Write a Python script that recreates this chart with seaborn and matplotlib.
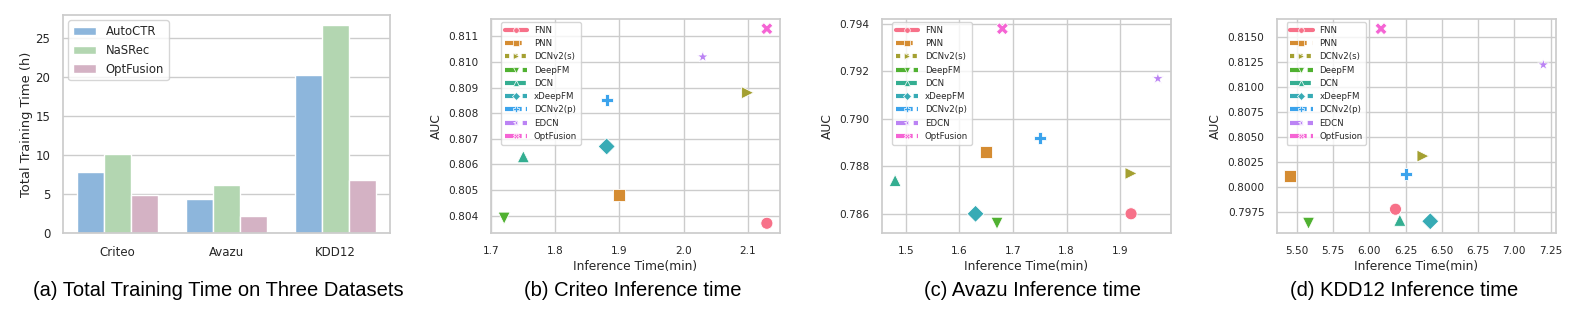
import matplotlib
matplotlib.use("Agg")
import matplotlib.pyplot as plt
from matplotlib.lines import Line2D
import numpy as np
import pandas as pd
import seaborn as sns
from seaborn._base import unique_dashes

# ---- data -------------------------------------------------------------
datasets = ["Criteo", "Avazu", "KDD12"]
searchers = ["AutoCTR", "NaSRec", "OptFusion"]
train_hours = {
    "AutoCTR": [7.8, 4.3, 20.3],
    "NaSRec": [10.1, 6.1, 26.6],
    "OptFusion": [4.9, 2.2, 6.8],
}

models = ["FNN", "PNN", "DCNv2(s)", "DeepFM", "DCN", "xDeepFM", "DCNv2(p)", "EDCN", "OptFusion"]
criteo_time = [2.13, 1.90, 2.10, 1.72, 1.75, 1.88, 1.88, 2.03, 2.13]
criteo_auc = [0.8037, 0.8048, 0.8088, 0.8039, 0.8063, 0.8067, 0.8085, 0.8102, 0.8113]
avazu_time = [1.92, 1.65, 1.92, 1.67, 1.48, 1.63, 1.75, 1.97, 1.68]
avazu_auc = [0.7860, 0.7886, 0.7877, 0.7856, 0.7874, 0.7860, 0.7892, 0.7917, 0.7938]
kdd_time = [6.18, 5.45, 6.37, 5.58, 6.21, 6.42, 6.25, 7.20, 6.08]
kdd_auc = [0.7978, 0.8011, 0.8031, 0.7964, 0.7967, 0.7966, 0.8013, 0.8122, 0.8158]

captions = [
    "(a) Total Training Time on Three Datasets",
    "(b) Criteo Inference time",
    "(c) Avazu Inference time",
    "(d) KDD12 Inference time",
]

# ---- style ------------------------------------------------------------
sns.set_theme(style="whitegrid")
plt.rcParams["font.family"] = ["DejaVu Sans"]

bar_colors = ["#8db6dc", "#b3d6b1", "#d4b2c4"]
palette = dict(zip(models, sns.color_palette("husl", len(models))))
marker_list = ["o", "s", ">", "v", "^", "D", "P", "*", "X"]
markers = dict(zip(models, marker_list))
dashes = dict(zip(models, unique_dashes(len(models))))

W, H = 1577, 315
fig = plt.figure(figsize=(W / 100, H / 100), dpi=100)


def px_axes(left, right, top, bottom):
    return fig.add_axes([left / W, (H - bottom) / H, (right - left) / W, (bottom - top) / H])


# ---- (a) training time bars ------------------------------------------
bars = pd.DataFrame(
    [(d, s, train_hours[s][i]) for s in searchers for i, d in enumerate(datasets)],
    columns=["dataset", "method", "hours"],
)
ax = px_axes(63, 390, 15, 233)
sns.barplot(
    data=bars, x="dataset", y="hours", hue="method", order=datasets,
    hue_order=searchers, palette=bar_colors, width=0.75, saturation=1,
    edgecolor="white", linewidth=1, ax=ax,
)
ax.set_xlabel("")
ax.set_ylabel("Total Training Time (h)", fontsize=9.4, color="#262626", labelpad=2)
ax.tick_params(labelsize=8.5, colors="#262626", pad=3)
ax.legend(loc="upper left", fontsize=8.4, frameon=True, borderaxespad=0.45,
          bbox_to_anchor=(0.0, 1.0))

# ---- (b)-(d) inference time scatter ----------------------------------
panels = [
    (criteo_time, criteo_auc, (491, 780), "{x:.3f}"),
    (avazu_time, avazu_auc, (882, 1171), "{x:.3f}"),
    (kdd_time, kdd_auc, (1277, 1556), "{x:.4f}"),
]

handles = []
for m in models:
    ls = "-" if dashes[m] == "" else (0, dashes[m])
    handles.append(Line2D([], [], color=palette[m], marker=markers[m], markersize=4,
                          linewidth=3, linestyle=ls, markeredgecolor="white",
                          markeredgewidth=0.5))

for times, aucs, (left, right), fmt in panels:
    df = pd.DataFrame({"model": models, "time": times, "auc": aucs})
    ax = px_axes(left, right, 19, 233)
    sns.scatterplot(
        data=df, x="time", y="auc", hue="model", style="model",
        hue_order=models, style_order=models, palette=palette,
        markers=markers, s=75, edgecolor="white", linewidth=0.6,
        legend=False, ax=ax,
    )
    ax.yaxis.set_major_formatter(matplotlib.ticker.StrMethodFormatter(fmt))
    ax.set_xlabel("Inference Time(min)", fontsize=8.8, color="#262626", labelpad=3)
    ax.set_ylabel("AUC", fontsize=8.8, color="#262626")
    ax.tick_params(labelsize=7.6, colors="#262626", pad=3)
    ax.legend(handles, models, loc="upper left", bbox_to_anchor=(0.035, 0.985),
              borderaxespad=0, fontsize=6.2, handlelength=2.6, frameon=True)

# ---- captions ---------------------------------------------------------
for cx, text in zip([218, 633, 1032, 1404], captions):
    fig.text(cx / W, (H - 290) / H, text, ha="center", va="center",
             fontsize=14.5, family="Liberation Sans", color="black")

fig.savefig("out.png", dpi=100)
